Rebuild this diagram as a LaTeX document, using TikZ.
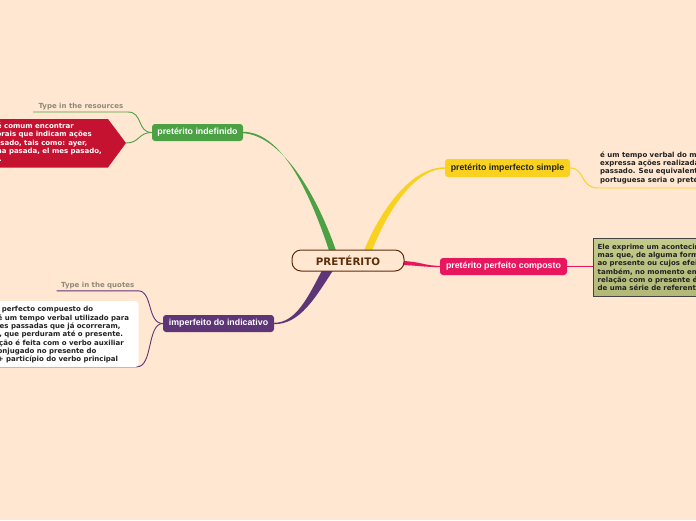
\documentclass[tikz,border=0pt]{standalone}
\usepackage{fontspec}
\setmainfont{DejaVu Sans}
\newfontfamily\lsans{Liberation Sans}
\usetikzlibrary{calc}
\definecolor{bgc}{HTML}{FFE7D1}
\definecolor{gcol}{HTML}{4CA145}
\definecolor{ycol}{HTML}{F9D11F}
\definecolor{pcol}{HTML}{E8175D}
\definecolor{vcol}{HTML}{5E3577}
\definecolor{rcol}{HTML}{C41230}
\definecolor{brn}{HTML}{5C2E0B}
\definecolor{gry}{HTML}{8E8A78}
\definecolor{olv}{HTML}{C3CA8B}
\definecolor{olvd}{HTML}{B2B977}
\definecolor{txt}{HTML}{222222}
\pgfdeclarelayer{bgl}
\pgfsetlayers{bgl,main}
\tikzset{
  topic/.style={rounded corners=3pt, inner sep=0pt, minimum height=17pt,
    font=\lsans\bfseries\fontsize{8.8}{10}\selectfont, text=white},
  boxtxt/.style={inner sep=0pt, font=\bfseries\fontsize{7}{8.4}\selectfont, text=txt},
  hint/.style={inner sep=0pt, font=\bfseries\fontsize{7}{8.4}\selectfont, text=gry},
  thin/.style={line width=0.9pt}
}
\begin{document}
\begin{tikzpicture}[x=1pt,y=-1pt]
\useasboundingbox (0,0) rectangle (696,520);
\begin{pgfonlayer}{bgl}
\fill[bgc] (0,0) rectangle (696,520);
\end{pgfonlayer}

% main nodes
\node[draw=brn, line width=1pt, rounded corners=9pt, fill=bgc, minimum width=112pt,
  minimum height=21pt, inner sep=0pt, text=brn, font=\bfseries\fontsize{10.3}{12}\selectfont]
  (c) at (348,260.5) {PRETÉRITO};
\node[topic, fill=gcol, minimum width=91pt] (ge) at (197.5,132.5) {pretérito indefinido};
\node[topic, fill=ycol, minimum width=125pt, minimum height=18pt, text=txt] (ye) at (507.5,168) {pretérito imperfecto simple};
\node[topic, fill=pcol, minimum width=127pt] (pe) at (503.5,266.5) {pretérito perfeito composto};
\node[topic, fill=vcol, minimum width=111pt] (ve) at (218.5,323.5) {imperfeito do indicativo};

% hints
\node[hint, anchor=base west] (h1) at (38.3,108.2) {Type in the resources};
\node[hint, anchor=base west] (h2) at (61,287) {Type in the quotes};
\coordinate (h1s) at (33,112);
\coordinate (h2s) at (56.7,290.8);

% red box
\fill[rcol] (-5,119) -- (108,119) -- (126,143) -- (108,167.5) -- (-5,167.5) -- cycle;
\coordinate (rp) at (126,143);
\foreach \x/\y/\t [count=\i] in {
  74/128.5/{No pretérito indefinido é comum encontrar},
  92/136.7/{advérbios e marcadores temporais que indicam ações},
  87.5/145/{ocorridas no passado, tais como: ayer,},
  102/153.2/{anteayer, la semana pasada, el mes pasado,},
  2/161.4/{el año pasado etc.}}
  \node[boxtxt, text=white, anchor=base east] (r\i) at (\x,\y) {\t};

% white box
\fill[white, rounded corners=3pt] (-6,301) rectangle (138.5,367);
\foreach \x/\y/\t [count=\i] in {
  93.3/311.8/{O pretérito perfecto compuesto do},
  129.3/320.1/{espanhol é um tempo verbal utilizado para},
  120.7/328.4/{expressar séries passadas que já ocorreram,},
  123.3/336.7/{no passado, que perduram até o presente.},
  124/345/{Sua formação é feita com o verbo auxiliar},
  96.7/353.3/{haber conjugado no presente do},
  118.3/361.6/{indicativo + particípio do verbo principal}}
  \node[boxtxt, anchor=base east] (w\i) at (\x,\y) {\t};
\coordinate (wb) at (-6,366.8);

% yellow text
\foreach \t [count=\i] in {
  {é um tempo verbal do modo indicativo que},
  {expressa ações realizadas e concluídas no},
  {passado. Seu equivalente na língua},
  {portuguesa seria o pretérito perfeito simples.}}
  \node[boxtxt, anchor=base west] (y\i) at (600,149.3+8.2*\i) {\t};
\coordinate (yu) at (700,188);

% olive box
\node[draw=txt!85, line width=0.8pt, top color=olv, bottom color=olvd, minimum width=120pt,
  minimum height=57.4pt, inner sep=0pt, anchor=north west] (ob) at (593.3,238.3) {};
\foreach \t [count=\i] in {
  {Ele exprime um acontecimento passado,},
  {mas que, de alguma forma, está ligado},
  {ao presente ou cujos efeitos perduram},
  {também, no momento em que se fala. A},
  {relação com o presente é estabelecida},
  {de uma série de referentes temporais.}}
  \node[boxtxt, anchor=base west] (o\i) at (597.5,241+8.3*\i) {\t};

\begin{pgfonlayer}{bgl}
% tapered main branches
\fill[gcol] ($(c.north)+(-19,1)$) .. controls (309,190) and (281,132) .. ($(ge.east)+(0,-0.7)$)
  -- ($(ge.east)+(0,0.7)$) .. controls (280,135.5) and (315,190) .. ($(c.north)+(-12,1)$) -- cycle;
\fill[ycol] ($(c.north)+(16,1)$) .. controls (383,205) and (413,167.3) .. ($(ye.west)+(0,-0.7)$)
  -- ($(ye.west)+(0,0.7)$) .. controls (416,169) and (389,207) .. ($(c.north)+(24,1)$) -- cycle;
\fill[vcol] ($(c.south)+(-26,-1)$) .. controls (308,297) and (296,322.8) .. ($(ve.east)+(0,-0.7)$)
  -- ($(ve.east)+(0,0.7)$) .. controls (300,324.2) and (315,298) .. ($(c.south)+(-15,-1)$) -- cycle;
\fill[pcol] ($(c.east)+(-2,0.5)$) .. controls (420,261.5) and (425,265.8) .. ($(pe.west)+(0,-0.6)$)
  -- ($(pe.west)+(0,0.6)$) .. controls (425,267.2) and (418,265.5) .. ($(c.east)+(-2,4.5)$) -- cycle;
% thin sub-branches
\draw[gcol, thin] (h1s) -- (128,112) .. controls (143,112) and (137,132.5) .. (ge.west);
\draw[gcol, thin] (rp) .. controls (140,143) and (138,132.5) .. (ge.west);
\draw[vcol, thin] (h2s) -- (138,290.8) .. controls (153,290.8) and (147,323.5) .. (ve.west);
\draw[vcol, thin] (wb) -- (137,366.8) .. controls (153,366.8) and (147,323.5) .. (ve.west);
\draw[ycol, thin] (ye.east) .. controls (585,168) and (580,188) .. (598,188) -- (yu);
\draw[pcol, thin] (pe.east) -- (ob.west |- pe.east);
\end{pgfonlayer}
\end{tikzpicture}
\end{document}
